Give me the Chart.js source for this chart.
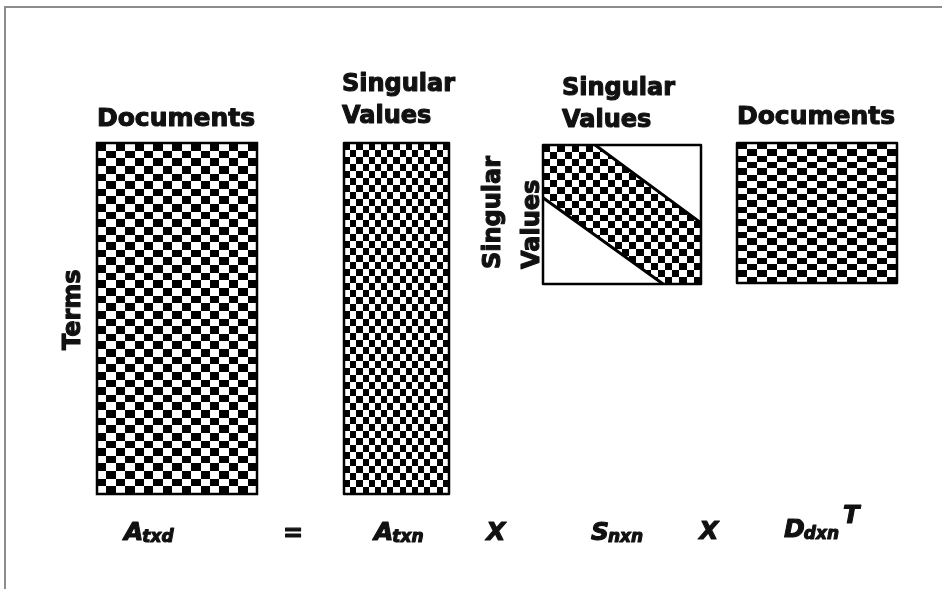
<!DOCTYPE html>
<html><head><meta charset="utf-8">
<script src="https://cdn.jsdelivr.net/npm/chart.js@4/dist/chart.umd.min.js"></script>
<style>html,body{margin:0;padding:0;background:#fff}canvas{display:block}</style>
</head><body>
<canvas id="c" width="942" height="589"></canvas>
<script>
// ---- data ----
const matrixNames = ['A', 'A', 'S', 'D'];
const matrixSubscripts = ['txd', 'txn', 'nxn', 'dxn'];
const matrixSuperscripts = ['', '', '', 'T'];
const operators = ['=', 'X', 'X'];
const columnLabels = [['Documents'], ['Singular', 'Values'], ['Singular', 'Values'], ['Documents']];
const rowLabels = [['Terms'], [], ['Singular', 'Values'], []];
const gridCols = [17, 17, 22, 16];
const gridRows = [46, 50, 20, 22];
// diagonal band of S, as fractions of the matrix width / height
const bandUpperEdge = [[0.33, 0], [1, 0.56]];
const bandLowerEdge = [[0, 0.38], [0.76, 1]];

// ---- layout (data units = page pixels) ----
const boxes = [
  {x0: 97, y0: 143, x1: 257, y1: 494},
  {x0: 344, y0: 143, x1: 449, y1: 494},
  {x0: 543, y0: 145, x1: 701, y1: 284},
  {x0: 737, y0: 143, x1: 897, y1: 283}
];
const colLabelPos = [
  {x: 176, ys: [126], align: 'center', size: 25},
  {x: 342, ys: [91, 123], align: 'left', size: 24},
  {x: 562, ys: [95, 127], align: 'left', size: 24},
  {x: 816, ys: [124], align: 'center', size: 25}
];
const rowLabelPos = [
  {xs: [80], y: 350},
  null,
  {xs: [500, 539], y: 269},
  null
];
const namePos = [{x: 124, y: 540}, {x: 374, y: 540}, {x: 591, y: 540}, {x: 784, y: 537}];
const opPos = [{x: 293, y: 541}, {x: 496, y: 540}, {x: 709, y: 539}];

const FONT = '"DejaVu Sans", "Liberation Sans", sans-serif';

function heavyText(ctx, s, x, y) {
  ctx.lineWidth = 1.1;
  ctx.lineJoin = 'round';
  ctx.strokeText(s, x, y);
  ctx.fillText(s, x, y);
}

const diagram = {
  id: 'diagram',
  afterDraw(chart) {
    const ctx = chart.ctx, X = chart.scales.x, Y = chart.scales.y;
    const px = v => X.getPixelForValue(v), py = v => Y.getPixelForValue(v);
    ctx.save();
    // outer frame
    ctx.strokeStyle = '#8c8c8c';
    ctx.lineWidth = 2;
    ctx.beginPath();
    ctx.moveTo(px(5), py(589));
    ctx.lineTo(px(5), py(7));
    ctx.lineTo(px(942), py(7));
    ctx.stroke();

    boxes.forEach((b, k) => {
      const x0 = px(b.x0), x1 = px(b.x1), y0 = py(b.y0), y1 = py(b.y1);
      const W = x1 - x0, H = y1 - y0;
      const cw = W / gridCols[k], ch = H / gridRows[k];
      ctx.save();
      if (k === 2) {
        ctx.beginPath();
        ctx.moveTo(x0, y0);
        ctx.lineTo(x0 + bandUpperEdge[0][0] * W, y0 + bandUpperEdge[0][1] * H);
        ctx.lineTo(x0 + bandUpperEdge[1][0] * W, y0 + bandUpperEdge[1][1] * H);
        ctx.lineTo(x1, y1);
        ctx.lineTo(x0 + bandLowerEdge[1][0] * W, y0 + bandLowerEdge[1][1] * H);
        ctx.lineTo(x0 + bandLowerEdge[0][0] * W, y0 + bandLowerEdge[0][1] * H);
        ctx.closePath();
        ctx.clip();
      }
      ctx.fillStyle = '#000';
      for (let r = 0; r < gridRows[k]; r++) {
        for (let c = 0; c < gridCols[k]; c++) {
          if ((r + c) % 2 !== 0) continue;
          const a = Math.round(x0 + c * cw), bb = Math.round(x0 + (c + 1) * cw);
          const t = Math.round(y0 + r * ch), u = Math.round(y0 + (r + 1) * ch);
          ctx.fillRect(a, t, bb - a, u - t);
        }
      }
      ctx.restore();
      ctx.strokeStyle = '#000';
      if (k === 2) {
        ctx.lineWidth = 3;
        ctx.beginPath();
        ctx.moveTo(x0 + bandUpperEdge[0][0] * W, y0 + bandUpperEdge[0][1] * H);
        ctx.lineTo(x0 + bandUpperEdge[1][0] * W, y0 + bandUpperEdge[1][1] * H);
        ctx.moveTo(x0 + bandLowerEdge[0][0] * W, y0 + bandLowerEdge[0][1] * H);
        ctx.lineTo(x0 + bandLowerEdge[1][0] * W, y0 + bandLowerEdge[1][1] * H);
        ctx.stroke();
      }
      ctx.lineWidth = 2.5;
      ctx.strokeRect(x0, y0, W, H);

      // column labels
      ctx.fillStyle = '#111';
      ctx.strokeStyle = '#111';
      const cl = colLabelPos[k];
      ctx.font = 'bold ' + cl.size + 'px ' + FONT;
      ctx.textAlign = cl.align;
      ctx.textBaseline = 'alphabetic';
      columnLabels[k].forEach((s, i) => heavyText(ctx, s, px(cl.x), py(cl.ys[i])));

      // row labels (rotated)
      const rl = rowLabelPos[k];
      if (rl) {
        ctx.font = 'bold 24px ' + FONT;
        ctx.textAlign = 'left';
        rowLabels[k].forEach((s, i) => {
          ctx.save();
          ctx.translate(px(rl.xs[i]), py(rl.y));
          ctx.rotate(-Math.PI / 2);
          heavyText(ctx, s, 0, 0);
          ctx.restore();
        });
      }

      // formula name
      const np = namePos[k];
      ctx.textAlign = 'left';
      ctx.font = 'italic bold 25px ' + FONT;
      heavyText(ctx, matrixNames[k], px(np.x), py(np.y));
      const w1 = ctx.measureText(matrixNames[k]).width;
      ctx.font = 'italic bold 17px ' + FONT;
      heavyText(ctx, matrixSubscripts[k], px(np.x) + w1 - 1, py(np.y + 2));
      const w2 = ctx.measureText(matrixSubscripts[k]).width;
      if (matrixSuperscripts[k]) {
        ctx.font = 'italic bold 24px ' + FONT;
        heavyText(ctx, matrixSuperscripts[k], px(np.x) + w1 + w2 + 3, py(np.y - 14));
      }
    });

    // operators
    ctx.textAlign = 'center';
    operators.forEach((op, i) => {
      ctx.font = (op === '=' ? 'bold 24px ' : 'italic bold 25px ') + FONT;
      heavyText(ctx, op, px(opPos[i].x), py(opPos[i].y));
    });
    ctx.restore();
  }
};

new Chart(document.getElementById('c'), {
  type: 'scatter',
  data: {datasets: [{data: []}]},
  options: {
    responsive: false,
    animation: false,
    layout: {padding: 0},
    plugins: {legend: {display: false}, tooltip: {enabled: false}},
    scales: {
      x: {type: 'linear', min: 0, max: 942, display: false},
      y: {type: 'linear', min: 0, max: 589, reverse: true, display: false}
    }
  },
  plugins: [diagram]
});
</script>
</body></html>
